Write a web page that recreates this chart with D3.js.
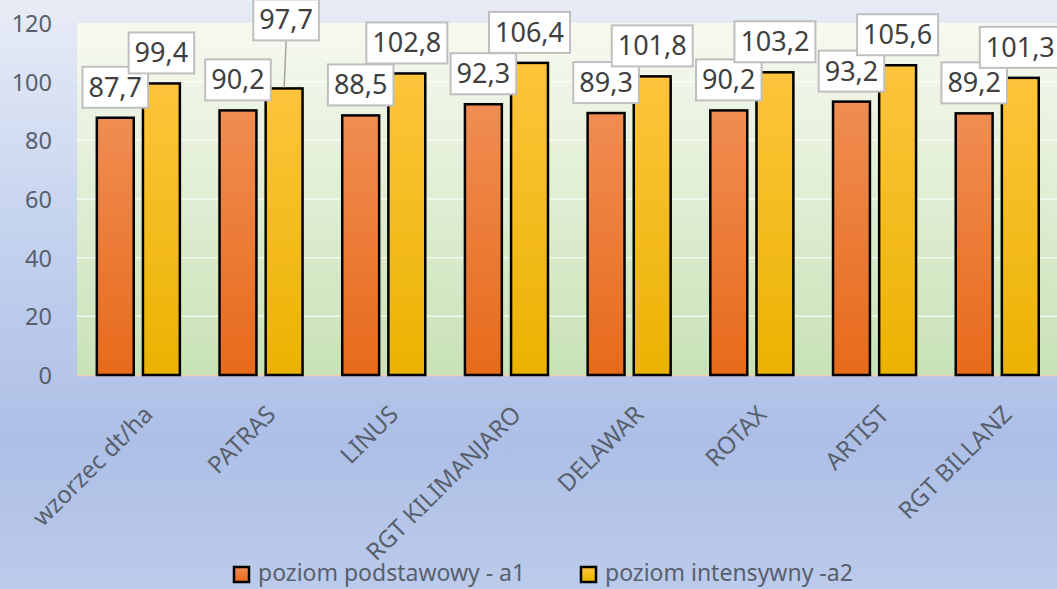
<!DOCTYPE html>
<html>
<head>
<meta charset="utf-8">
<title>plon odmian</title>
<script src="https://d3js.org/d3.v7.min.js"></script>
<style>
  body { margin: 0; overflow: hidden; }
  text { font-family: "Noto Sans", sans-serif; }
</style>
</head>
<body>
<div id="chart"></div>
<script type="text/javascript">

// data
var categories = ["wzorzec dt/ha", "PATRAS", "LINUS", "RGT KILIMANJARO", "DELAWAR", "ROTAX", "ARTIST", "RGT BILLANZ"];
var podstawowy = [87.7, 90.2, 88.5, 92.3, 89.3, 90.2, 93.2, 89.2];
var intensywny = [99.4, 97.7, 102.8, 106.4, 101.8, 103.2, 105.6, 101.3];
var seriesNames = ["poziom podstawowy - a1", "poziom intensywny -a2"];
var yTicks = [0, 20, 40, 60, 80, 100, 120];

// layout
var W = 1057, H = 589;
var plot = {left: 77, right: 1058.6, top: 23, bottom: 375};
var liftedLabels = {"PATRAS|1": 38};   // label moved up by hand, with leader line
var legendX = [234, 581];

var svg = d3.select("#chart").append("svg")
  .attr("width", W).attr("height", H);

var defs = svg.append("defs");
function vgrad(id, stops) {
  var g = defs.append("linearGradient").attr("id", id)
    .attr("x1", 0).attr("y1", 0).attr("x2", 0).attr("y2", 1);
  stops.forEach(function(s) {
    g.append("stop").attr("offset", s[0]).attr("stop-color", s[1]);
  });
}
vgrad("bg", [[0, "#e8ecf6"], [0.4, "#c4d2ee"], [0.75, "#adbfe6"], [1, "#bccbea"]]);
vgrad("plotbg", [[0, "#f7f9f1"], [1, "#c8e2b6"]]);
vgrad("g0", [[0, "#f08d52"], [1, "#e76a1a"]]);
vgrad("g1", [[0, "#fec43c"], [1, "#eab300"]]);
var fills = ["url(#g0)", "url(#g1)"];

svg.append("rect").attr("width", W).attr("height", H).attr("fill", "url(#bg)");
svg.append("rect")
  .attr("x", plot.left).attr("y", plot.top)
  .attr("width", plot.right - plot.left).attr("height", plot.bottom - plot.top)
  .attr("fill", "url(#plotbg)");

var x0 = d3.scaleBand().domain(categories).range([plot.left, plot.right]);
var x1 = d3.scaleBand().domain([0, 1]).range([0, x0.bandwidth()])
  .paddingInner(0.2).paddingOuter(0.43);
var y = d3.scaleLinear().domain([0, 120]).range([plot.bottom, plot.top]);

// gridlines
svg.append("g").selectAll("line")
  .data(yTicks.filter(function(t) { return t > 0 && t < 120; }))
  .enter().append("line")
  .attr("x1", plot.left).attr("x2", plot.right)
  .attr("y1", function(d) { return y(d); })
  .attr("y2", function(d) { return y(d); })
  .attr("stroke", "#ffffff").attr("stroke-opacity", 0.7).attr("stroke-width", 1.5);

svg.append("line")
  .attr("x1", plot.left).attr("x2", plot.right)
  .attr("y1", plot.bottom + 0.5).attr("y2", plot.bottom + 0.5)
  .attr("stroke", "#f3cdb4").attr("stroke-width", 1.5);

// y axis
var yAxis = svg.append("g")
  .attr("transform", "translate(" + plot.left + ",0)")
  .call(d3.axisLeft(y).tickValues(yTicks).tickSize(0).tickPadding(25));
yAxis.select(".domain").remove();
yAxis.selectAll("text")
  .style("font-size", "23.5px").attr("fill", "#58606e").attr("dy", "0.36em");

// x axis
var xAxis = svg.append("g")
  .attr("transform", "translate(0," + plot.bottom + ")")
  .call(d3.axisBottom(x0).tickSize(0));
xAxis.select(".domain").remove();
xAxis.selectAll("text")
  .attr("x", 0).attr("y", 0).attr("dy", null)
  .attr("text-anchor", "end")
  .attr("transform", "translate(16,41) rotate(-45)")
  .style("font-size", "24px").attr("fill", "#58606e");

// bars
var rows = categories.map(function(c, i) {
  return {cat: c, vals: [podstawowy[i], intensywny[i]]};
});
var bars = [];
rows.forEach(function(r) {
  r.vals.forEach(function(v, s) {
    bars.push({cat: r.cat, s: s, v: v});
  });
});

svg.append("g").selectAll("rect")
  .data(bars)
  .enter().append("rect")
  .attr("x", function(d) { return x0(d.cat) + x1(d.s); })
  .attr("y", function(d) { return y(d.v); })
  .attr("width", x1.bandwidth())
  .attr("height", function(d) { return plot.bottom - y(d.v); })
  .attr("fill", function(d) { return fills[d.s]; })
  .attr("stroke", "#000").attr("stroke-width", 2.5);

// data labels
var fmt = function(v) { return d3.format(".1f")(v).replace(".", ","); };
var labG = svg.append("g");
[0, 1].forEach(function(s) {
  bars.filter(function(d) { return d.s === s; }).forEach(function(d) {
    var cx = x0(d.cat) + x1(d.s) + x1.bandwidth() / 2;
    var lift = liftedLabels[d.cat + "|" + d.s] || 0;
    var boxBottom = y(d.v) - 10 - lift;
    var g = labG.append("g");
    if (lift) {
      g.append("line")
        .attr("x1", cx + 2).attr("y1", boxBottom)
        .attr("x2", cx).attr("y2", y(d.v) - 1)
        .attr("stroke", "#a6a6a6").attr("stroke-width", 1.5);
    }
    var box = g.append("rect");
    var t = g.append("text")
      .attr("x", cx + (lift ? 2 : 0)).attr("y", boxBottom - 11)
      .attr("text-anchor", "middle")
      .style("font-size", "27px").attr("fill", "#404040")
      .text(fmt(d.v));
    var w = t.node().getComputedTextLength() + 12;
    box.attr("x", cx + (lift ? 2 : 0) - w / 2).attr("y", boxBottom - 41)
      .attr("width", w).attr("height", 41)
      .attr("fill", "#fff").attr("stroke", "#bfbfbf").attr("stroke-width", 2);
  });
});

// legend
var leg = svg.append("g").selectAll("g")
  .data(seriesNames)
  .enter().append("g")
  .attr("transform", function(d, i) { return "translate(" + legendX[i] + ",567)"; });
leg.append("rect")
  .attr("width", 15).attr("height", 15)
  .attr("fill", function(d, i) { return fills[i]; })
  .attr("stroke", "#000").attr("stroke-width", 2.5);
leg.append("text")
  .attr("x", 24).attr("y", 14)
  .style("font-size", "23px").attr("fill", "#58606e")
  .text(function(d) { return d; });

</script>
</body>
</html>
